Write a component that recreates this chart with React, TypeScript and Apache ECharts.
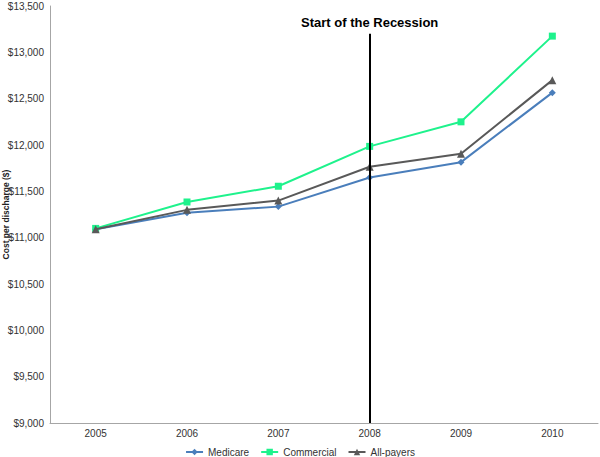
import React, { useEffect, useRef } from "react";
import * as echarts from "echarts";

const years = ["2005", "2006", "2007", "2008", "2009", "2010"];
const medicare = [11090, 11270, 11335, 11650, 11815, 12565];
const commercial = [11100, 11385, 11555, 11985, 12250, 13175];
const allPayers = [11090, 11300, 11400, 11765, 11905, 12700];
const recessionYear = "2008";
const recessionLabel = "Start of the Recession";

export default function App() {
  const ref = useRef<HTMLDivElement>(null);
  useEffect(() => {
    if (!ref.current) return;
    const chart = echarts.init(ref.current, undefined, { renderer: "svg" });
    const font = "Liberation Sans, Arial, sans-serif";
    chart.setOption({
      animation: false,
      textStyle: { fontFamily: font },
      grid: { left: 50, right: 2, top: 6, bottom: 34, containLabel: false, outerBoundsMode: "none" },
      legend: {
        bottom: 0,
        left: "center",
        padding: 0,
        itemWidth: 17,
        itemHeight: 8,
        itemGap: 11,
        textStyle: { fontSize: 10, color: "#333", fontFamily: font },
        data: ["Medicare", "Commercial", "All-payers"],
      },
      xAxis: {
        type: "category",
        data: years,
        boundaryGap: true,
        axisLine: { lineStyle: { color: "#a6a6a6", width: 1 } },
        axisTick: { show: false },
        axisLabel: { fontSize: 10, color: "#333", margin: 5, fontFamily: font },
        splitLine: { show: false },
      },
      yAxis: {
        type: "value",
        min: 9000,
        max: 13500,
        interval: 500,
        name: "Cost per discharge ($)",
        nameLocation: "middle",
        nameGap: 40,
        nameMoveOverlap: false,
        nameTextStyle: { fontSize: 8.5, fontWeight: "bold", color: "#222", fontFamily: font },
        axisLine: { show: true, lineStyle: { color: "#a6a6a6", width: 1 } },
        axisTick: { show: false },
        splitLine: { show: false },
        axisLabel: {
          fontSize: 10,
          color: "#333",
          margin: 6,
          fontFamily: font,
          formatter: (v: number) => "$" + v.toLocaleString("en-US"),
        },
      },
      series: [
        {
          name: "Medicare",
          type: "line",
          data: medicare,
          symbol: "diamond",
          symbolSize: 7,
          lineStyle: { color: "#4a7ebb", width: 2 },
          itemStyle: { color: "#4a7ebb" },
          z: 3,
        },
        {
          name: "Commercial",
          type: "line",
          data: commercial,
          symbol: "rect",
          symbolSize: 7,
          lineStyle: { color: "#1ef28c", width: 2 },
          itemStyle: { color: "#1ef28c" },
          z: 3,
        },
        {
          name: "All-payers",
          type: "line",
          data: allPayers,
          symbol: "triangle",
          symbolSize: 8,
          lineStyle: { color: "#595959", width: 2 },
          itemStyle: { color: "#595959" },
          z: 4,
          markLine: {
            silent: true,
            symbol: ["none", "none"],
            lineStyle: { color: "#000", width: 2, type: "solid" },
            label: {
              show: true,
              position: "start",
              formatter: recessionLabel,
              fontSize: 13,
              fontWeight: "bold",
              color: "#000",
              fontFamily: font,
              distance: 5,
            },
            data: [
              [
                { coord: [recessionYear, 13200] },
                { coord: [recessionYear, 9000] },
              ],
            ],
          },
        },
      ],
    });
    return () => chart.dispose();
  }, []);
  return (
    <div
      ref={ref}
      style={{ position: "absolute", left: 0, top: 0, width: 600, height: 457 }}
    />
  );
}
